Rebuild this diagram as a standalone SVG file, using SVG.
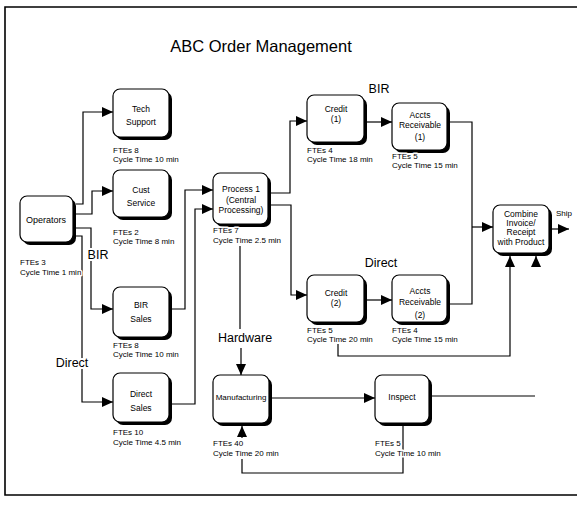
<svg xmlns="http://www.w3.org/2000/svg" width="577" height="507" viewBox="0 0 577 507">
<style>
text{font-family:"Liberation Sans",Arial,sans-serif;fill:#000}
.t{font-size:8.5px;text-anchor:middle}
.f{font-size:8px;paint-order:stroke;stroke:#fff;stroke-width:3px;stroke-linejoin:round}
.lb{font-size:12.5px;text-anchor:middle;paint-order:stroke;stroke:#fff;stroke-width:4px}
.sh{fill:#000}
.bx{fill:#fff;stroke:#000;stroke-width:1.2}
.c{fill:none;stroke:#000;stroke-width:1.2}
.a{marker-end:url(#ah)}
</style>
<defs>
<marker id="ah" markerUnits="userSpaceOnUse" markerWidth="11" markerHeight="10" refX="11" refY="5" orient="auto"><path d="M0,0 L11,5 L0,10 z" fill="#000"/></marker>
</defs>
<rect width="577" height="507" fill="#fff"/>
<path d="M577,7 H5 V495 H577" fill="none" stroke="#000" stroke-width="1.6"/>
<text x="261" y="52" style="font-size:16.5px" text-anchor="middle">ABC Order Management</text>

<g id="connectors">
<path class="c a" d="M76,204 H83 V112 H113"/>
<path class="c a" d="M76,214 H92 V191 H113"/>
<path class="c a" d="M76,228 H91 V309 H113"/>
<path class="c a" d="M76,236 H82 V402 H113"/>
<path class="c a" d="M172,309 H185 V190 H213"/>
<path class="c a" d="M172,404 H195 V209 H213"/>
<path class="c a" d="M271,193 H290 V121 H307"/>
<path class="c a" d="M271,205 H291 V295 H307"/>
<path class="c a" d="M367,122 H392"/>
<path class="c a" d="M367,300 H392"/>
<path class="c" d="M450,122 H472 V304 H450"/>
<path class="c a" d="M472,227 H493"/>
<path class="c a" d="M338,344 V356 H510 V256"/>
<path class="c a" d="M536,267 V256"/>
<path class="c a" d="M552,229 H569"/>
<path class="c" d="M240,246 V329" stroke-width="0.9"/>
<path class="c a" d="M241,348 V375" stroke-width="0.9"/>
<path class="c a" d="M272,398 H375"/>
<path class="c" d="M432,396 H535"/>
<path class="c" d="M403,426 V473 H242 V459" stroke-width="0.9"/>
<path class="c a" d="M242,438 V426"/>
</g>

<g id="labels">
<text class="lb" x="98" y="259">BIR</text>
<text class="lb" x="72" y="367">Direct</text>
<text class="lb" x="379" y="93">BIR</text>
<text class="lb" x="381" y="267">Direct</text>
<text class="lb" x="245" y="342">Hardware</text>
<text x="556" y="216" style="font-size:8px">Ship</text>
</g>

<g id="operators">
<rect class="sh" x="23" y="199" width="53" height="46" rx="7"/>
<rect class="bx" x="20" y="196" width="53" height="46" rx="7"/>
<text class="t" x="46" y="223" style="font-size:9px">Operators</text>
<text class="f" x="20" y="265">FTEs 3</text>
<text class="f" x="20" y="275">Cycle Time  1 min</text>
</g>

<g id="tech-support">
<rect class="sh" x="116" y="92" width="56" height="48" rx="7"/>
<rect class="bx" x="113" y="89" width="56" height="48" rx="7"/>
<text class="t" x="141" y="112">Tech</text>
<text class="t" x="141" y="125">Support</text>
<text class="f" x="113" y="153">FTEs 8</text>
<text class="f" x="113" y="162">Cycle Time  10 min</text>
</g>

<g id="cust-service">
<rect class="sh" x="116" y="173" width="56" height="47" rx="7"/>
<rect class="bx" x="113" y="170" width="56" height="47" rx="7"/>
<text class="t" x="141" y="193">Cust</text>
<text class="t" x="141" y="206">Service</text>
<text class="f" x="113" y="235">FTEs 2</text>
<text class="f" x="113" y="244">Cycle Time  8 min</text>
</g>

<g id="bir-sales">
<rect class="sh" x="116" y="290" width="56" height="50" rx="7"/>
<rect class="bx" x="113" y="287" width="56" height="50" rx="7"/>
<text class="t" x="141" y="308">BIR</text>
<text class="t" x="141" y="322">Sales</text>
<text class="f" x="113" y="348">FTEs 8</text>
<text class="f" x="113" y="357">Cycle Time  10 min</text>
</g>

<g id="direct-sales">
<rect class="sh" x="116" y="376" width="56" height="49" rx="7"/>
<rect class="bx" x="113" y="373" width="56" height="49" rx="7"/>
<text class="t" x="141" y="397">Direct</text>
<text class="t" x="141" y="411">Sales</text>
<text class="f" x="113" y="435">FTEs 10</text>
<text class="f" x="113" y="445">Cycle Time  4.5 min</text>
</g>

<g id="process-1">
<rect class="sh" x="216" y="176" width="55" height="51" rx="7"/>
<rect class="bx" x="213" y="173" width="55" height="51" rx="7"/>
<text class="t" x="241" y="192">Process 1</text>
<text class="t" x="241" y="203">(Central</text>
<text class="t" x="241" y="213">Processing)</text>
<text class="f" x="213" y="233">FTEs 7</text>
<text class="f" x="213" y="243">Cycle Time  2.5 min</text>
</g>

<g id="credit-1">
<rect class="sh" x="310" y="98" width="57" height="47" rx="7"/>
<rect class="bx" x="307" y="95" width="57" height="47" rx="7"/>
<text class="t" x="336" y="112">Credit</text>
<text class="t" x="336" y="122">(1)</text>
<text class="f" x="307" y="153">FTEs 4</text>
<text class="f" x="307" y="162">Cycle Time  18 min</text>
</g>

<g id="accts-receivable-1">
<rect class="sh" x="395" y="106" width="55" height="47" rx="7"/>
<rect class="bx" x="392" y="103" width="55" height="47" rx="7"/>
<text class="t" x="420" y="118">Accts</text>
<text class="t" x="420" y="128">Receivable</text>
<text class="t" x="420" y="140">(1)</text>
<text class="f" x="392" y="159">FTEs 5</text>
<text class="f" x="392" y="168">Cycle Time  15 min</text>
</g>

<g id="credit-2">
<rect class="sh" x="310" y="278" width="57" height="47" rx="7"/>
<rect class="bx" x="307" y="275" width="57" height="47" rx="7"/>
<text class="t" x="336" y="296">Credit</text>
<text class="t" x="336" y="306">(2)</text>
<text class="f" x="307" y="333">FTEs 5</text>
<text class="f" x="307" y="342">Cycle Time  20 min</text>
</g>

<g id="accts-receivable-2">
<rect class="sh" x="395" y="278" width="55" height="47" rx="7"/>
<rect class="bx" x="392" y="275" width="55" height="47" rx="7"/>
<text class="t" x="420" y="294">Accts</text>
<text class="t" x="420" y="305">Receivable</text>
<text class="t" x="420" y="318">(2)</text>
<text class="f" x="392" y="333">FTEs 4</text>
<text class="f" x="392" y="342">Cycle Time  15 min</text>
</g>

<g id="combine">
<rect class="sh" x="496" y="208" width="56" height="48" rx="7"/>
<rect class="bx" x="493" y="205" width="56" height="48" rx="7"/>
<text class="t" x="521" y="217">Combine</text>
<text class="t" x="521" y="226">Invoice/</text>
<text class="t" x="521" y="235">Receipt</text>
<text class="t" x="521" y="245">with Product</text>
</g>

<g id="manufacturing">
<rect class="sh" x="216" y="378" width="56" height="48" rx="7"/>
<rect class="bx" x="213" y="375" width="56" height="48" rx="7"/>
<text class="t" x="241" y="400" style="font-size:8px">Manufacturing</text>
<text class="f" x="213" y="446">FTEs 40</text>
<text class="f" x="213" y="456">Cycle Time  20 min</text>
</g>

<g id="inspect">
<rect class="sh" x="378" y="378" width="54" height="48" rx="7"/>
<rect class="bx" x="375" y="375" width="54" height="48" rx="7"/>
<text class="t" x="402" y="400">Inspect</text>
<text class="f" x="375" y="446">FTEs 5</text>
<text class="f" x="375" y="456">Cycle Time  10 min</text>
</g>
</svg>
